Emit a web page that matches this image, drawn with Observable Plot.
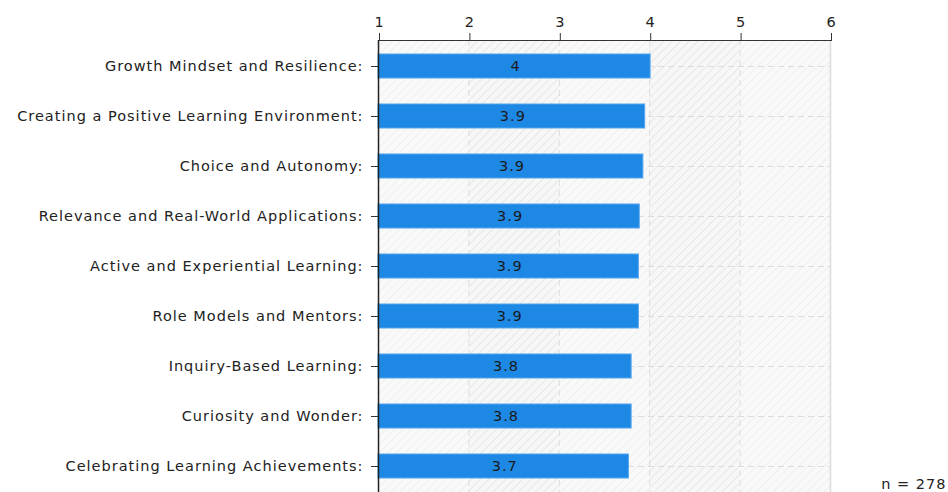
<!DOCTYPE html>
<html><head><meta charset="utf-8">
<script src="https://cdn.jsdelivr.net/npm/d3@7"></script>
<script src="https://cdn.jsdelivr.net/npm/@observablehq/plot@0.6"></script>
<style>
body{margin:0;background:#fff;}
#chart svg{display:block;}
#chart svg text{letter-spacing:1px;}
</style></head><body><div id="chart"></div>
<script>
const categories = [
  "Growth Mindset and Resilience:",
  "Creating a Positive Learning Environment:",
  "Choice and Autonomy:",
  "Relevance and Real-World Applications:",
  "Active and Experiential Learning:",
  "Role Models and Mentors:",
  "Inquiry-Based Learning:",
  "Curiosity and Wonder:",
  "Celebrating Learning Achievements:"
];
const values = [4.01, 3.95, 3.93, 3.89, 3.88, 3.88, 3.80, 3.80, 3.77];
const valueLabels = ["4", "3.9", "3.9", "3.9", "3.9", "3.9", "3.8", "3.8", "3.7"];
const xTicks = [1, 2, 3, 4, 5, 6];
const sampleSize = 278;

const data = categories.map((c, i) => ({category: c, value: values[i], label: valueLabels[i]}));
const columns = d3.pairs(xTicks).map(([a, b], i) => ({x1: a, x2: b, alt: i % 2}));
const FONT = "DejaVu Sans";
const FS = 14.5;

const chart = Plot.plot({
  width: 948,
  height: 492,
  marginLeft: 378,
  marginRight: 118,
  marginTop: 40,
  marginBottom: 0,
  style: {fontFamily: FONT, fontSize: FS + "px", color: "#222", background: "#fff"},
  x: {domain: [1, 6], axis: null},
  y: {domain: categories, paddingInner: 0.52, paddingOuter: 0.26, axis: null},
  marks: [
    Plot.rect(columns, {x1: "x1", x2: "x2", fill: d => d.alt ? "url(#hatchStrong)" : "url(#hatchLight)"}),
    Plot.ruleX(xTicks.slice(1, -1), {stroke: "#dcdcdc", strokeDasharray: "6,4", strokeWidth: 1}),
    Plot.ruleX([6], {stroke: "#dcdcdc", strokeWidth: 1.5}),
    Plot.ruleY(categories, {x1: 1, x2: 6, stroke: "#dcdcdc", strokeDasharray: "6,4", strokeWidth: 1}),
    Plot.barX(data, {x1: 1, x2: "value", y: "category", fill: "#1e88e5", stroke: "#55a6ee", strokeWidth: 1}),
    Plot.text(data, {x: d => (1 + d.value) / 2, y: "category", text: "label", fill: "#1a1a1a", fontSize: FS, dx: 1}),
    Plot.axisX(xTicks, {anchor: "top", tickSize: 8, tickPadding: 6, fontSize: FS, label: null, stroke: "#333", fill: "#222", dx: 1}),
    Plot.axisY({anchor: "left", tickSize: 7, tickPadding: 8, fontSize: FS, label: null, stroke: "#333", fill: "#222"}),
    Plot.frame({anchor: "top", stroke: "#333"}),
    Plot.ruleX([1], {stroke: "#222", strokeWidth: 1.5}),
    Plot.text([`n = ${sampleSize}`], {frameAnchor: "bottom-right", dx: 116, dy: -4, textAnchor: "end", lineAnchor: "bottom", fontSize: FS, fill: "#222"})
  ]
});

const ns = "http://www.w3.org/2000/svg";
const defs = document.createElementNS(ns, "defs");
defs.innerHTML = `
<pattern id="hatchLight" width="6" height="6" patternUnits="userSpaceOnUse" patternTransform="rotate(45)">
  <rect width="6" height="6" fill="#f9f9f9"/>
  <line x1="0" y1="0" x2="0" y2="6" stroke="#efefef" stroke-width="2"/>
</pattern>
<pattern id="hatchStrong" width="6" height="6" patternUnits="userSpaceOnUse" patternTransform="rotate(45)">
  <rect width="6" height="6" fill="#f7f7f7"/>
  <line x1="0" y1="0" x2="0" y2="6" stroke="#e7e7e7" stroke-width="2"/>
</pattern>`;
chart.insertBefore(defs, chart.firstChild);
document.getElementById("chart").appendChild(chart);
</script>
</body></html>
